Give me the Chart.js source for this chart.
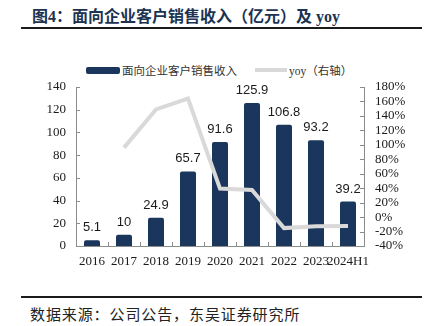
<!DOCTYPE html>
<html>
<head>
<meta charset="utf-8">
<script src="https://cdn.jsdelivr.net/npm/chart.js@4"></script>
<style>
    body { margin: 0; width: 429px; height: 326px; background: #fff; position: relative; overflow: hidden; }
    .title { position: absolute; left: 32px; top: 3px; font: bold 16px "Liberation Serif", "Noto Sans CJK SC"; color: #1c3352; letter-spacing: 0; white-space: nowrap; }
    .rule { position: absolute; left: 21px; width: 401px; height: 2px; background: #1a1a1a; }
    .source { position: absolute; left: 30px; top: 303px; font: 15px "Liberation Serif", "Noto Sans CJK SC"; color: #222; letter-spacing: 0.9px; white-space: nowrap; }
    .legend { position: absolute; top: 62px; font: 11.5px "Liberation Serif", "Noto Sans CJK SC"; color: #333; white-space: nowrap; }
    .swatch { position: absolute; }
    #box { position: absolute; left: 0; top: 40px; }
</style>
</head>
<body>
<div class="title">图4：面向企业客户销售收入（亿元）及 yoy</div>
<div class="rule" style="top:27px"></div>

<div class="swatch" style="left:86px;top:67px;width:34px;height:7px;background:#1b365d;border-radius:2px"></div>
<div class="legend" style="left:122px">面向企业客户销售收入</div>
<div class="swatch" style="left:255px;top:68px;width:32px;height:4px;background:#d9d9d9"></div>
<div class="legend" style="left:289px">yoy（右轴）</div>

<div id="box"><canvas id="myChart" width="429" height="250"></canvas></div>

<div class="rule" style="top:296px"></div>
<div class="source">数据来源：公司公告，东吴证券研究所</div>

<script>
const tahun = ['2016', '2017', '2018', '2019', '2020', '2021', '2022', '2023', '2024H1'];
const pendapatan = [5.1, 10, 24.9, 65.7, 91.6, 125.9, 106.8, 93.2, 39.2];
const yoy = [null, 96.1, 149.0, 163.9, 39.4, 37.4, -15.2, -12.7, -12.4];

const warnaBatang = '#1b365d';
const warnaGaris = '#d9d9d9';
const warnaSumbu = '#8c8c8c';

// small inward tick marks on all three axes, plus value labels above the bars
const tickDalam = {
    id: 'tickDalam',
    afterDraw(chart) {
        const ctx = chart.ctx;
        const x = chart.scales.x;
        const yKiri = chart.scales.y;
        const yKanan = chart.scales.y1;
        ctx.save();
        ctx.strokeStyle = warnaSumbu;
        ctx.lineWidth = 1;
        ctx.beginPath();
        for (let i = 0; i <= tahun.length; i++) {
            const px = Math.round(x.getPixelForValue(i - 0.5)) + 0.5;
            ctx.moveTo(px, x.top);
            ctx.lineTo(px, x.top - 4);
        }
        yKiri.ticks.forEach(t => {
            const py = Math.round(yKiri.getPixelForValue(t.value)) + 0.5;
            ctx.moveTo(yKiri.right, py);
            ctx.lineTo(yKiri.right + 4, py);
        });
        yKanan.ticks.forEach(t => {
            const py = Math.round(yKanan.getPixelForValue(t.value)) + 0.5;
            ctx.moveTo(yKanan.left, py);
            ctx.lineTo(yKanan.left - 4, py);
        });
        ctx.stroke();

        const meta = chart.getDatasetMeta(1);
        ctx.fillStyle = '#1a1a1a';
        ctx.font = '13px "Liberation Sans", Arial';
        ctx.textAlign = 'center';
        ctx.textBaseline = 'bottom';
        meta.data.forEach((bar, i) => {
            ctx.fillText(String(pendapatan[i]), bar.x, bar.y - 6);
        });
        ctx.restore();
    }
};

const ctx = document.getElementById('myChart').getContext('2d');
new Chart(ctx, {
    data: {
        labels: tahun,
        datasets: [{
            type: 'line',
            label: 'yoy（右轴）',
            data: yoy,
            yAxisID: 'y1',
            borderColor: warnaGaris,
            borderWidth: 4,
            pointRadius: 0,
            tension: 0,
            order: 0
        }, {
            type: 'bar',
            label: '面向企业客户销售收入',
            data: pendapatan,
            yAxisID: 'y',
            backgroundColor: warnaBatang,
            borderRadius: 2,
            borderSkipped: 'bottom',
            categoryPercentage: 1,
            barPercentage: 0.5,
            order: 1
        }]
    },
    options: {
        responsive: false,
        animation: false,
        layout: { padding: { top: 47, left: 0, right: 0, bottom: 0 } },
        plugins: {
            legend: { display: false },
            tooltip: { enabled: false }
        },
        scales: {
            x: {
                offset: true,
                grid: { display: false, drawTicks: false },
                border: { color: warnaSumbu },
                ticks: {
                    padding: 8,
                    autoSkip: false,
                    maxRotation: 0,
                    color: '#1a1a1a',
                    font: { family: '"Liberation Serif", "Times New Roman"', size: 13 }
                },
                afterFit: s => { s.height = 44; }
            },
            y: {
                position: 'left',
                min: 0,
                max: 140,
                grid: { display: false, drawTicks: false },
                border: { color: warnaSumbu },
                ticks: {
                    stepSize: 20,
                    padding: 10,
                    autoSkip: false,
                    color: '#1a1a1a',
                    font: { family: '"Liberation Serif", "Times New Roman"', size: 13 }
                },
                afterFit: s => { s.width = 76; }
            },
            y1: {
                position: 'right',
                min: -40,
                max: 180,
                grid: { display: false, drawTicks: false },
                border: { color: warnaSumbu },
                ticks: {
                    stepSize: 20,
                    padding: 11,
                    autoSkip: false,
                    color: '#1a1a1a',
                    font: { family: '"Liberation Serif", "Times New Roman"', size: 13 },
                    callback: v => v + '%'
                },
                afterFit: s => { s.width = 65; }
            }
        }
    },
    plugins: [tickDalam]
});
</script>
</body>
</html>
